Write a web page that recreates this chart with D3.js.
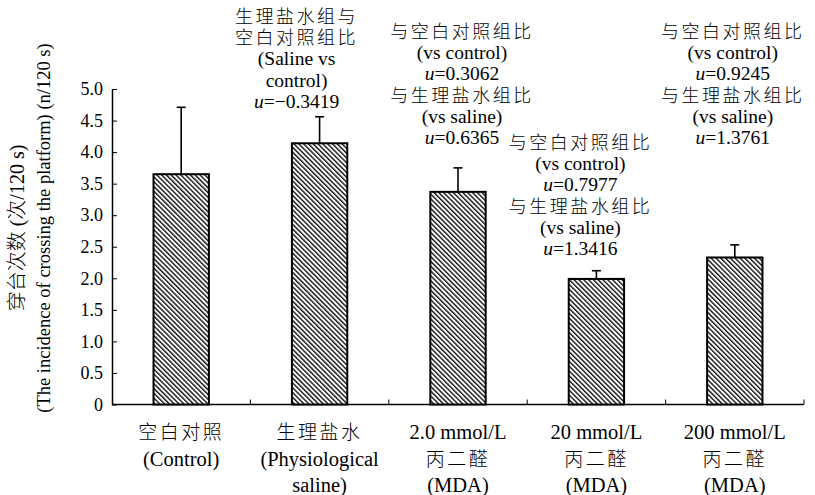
<!DOCTYPE html>
<html>
<head>
<meta charset="utf-8">
<script src="https://cdn.jsdelivr.net/npm/d3@7"></script>
<style>
  body { margin: 0; background: #fff; }
  svg text { font-family: "Liberation Serif", "Times New Roman", Times, serif; fill: #000; }
  svg text.cjk, svg tspan.cjk { font-family: "Noto Sans CJK SC", sans-serif; font-weight: 300; }
</style>
</head>
<body>
<div id="chart"></div>
<script>
// data
var categories = ["control", "saline", "mda2", "mda20", "mda200"];
var means = [3.65, 4.14, 3.37, 1.99, 2.33];
var errors = [1.06, 0.42, 0.38, 0.13, 0.2];
var yTicks = [0, 0.5, 1.0, 1.5, 2.0, 2.5, 3.0, 3.5, 4.0, 4.5, 5.0];
var catLabels = [
  ["空白对照", "(Control)"],
  ["生理盐水", "(Physiological", "saline)"],
  ["2.0 mmol/L", "丙二醛", "(MDA)"],
  ["20 mmol/L", "丙二醛", "(MDA)"],
  ["200 mmol/L", "丙二醛", "(MDA)"]
];
var notes = [
  [],
  ["生理盐水组与", "空白对照组比", "(Saline vs", "control)", "u=−0.3419"],
  ["与空白对照组比", "(vs control)", "u=0.3062", "与生理盐水组比", "(vs saline)", "u=0.6365"],
  ["与空白对照组比", "(vs control)", "u=0.7977", "与生理盐水组比", "(vs saline)", "u=1.3416"],
  ["与空白对照组比", "(vs control)", "u=0.9245", "与生理盐水组比", "(vs saline)", "u=1.3761"]
];
var yTitleCn = "穿台次数";
var yTitleEn = "(The incidence of crossing the platform) (n/120 s)";

// layout of the annotation blocks: [x offset from band centre, first baseline]
var noteLayout = [[0, 0], [-23, 23], [4, 38], [-16, 149], [-2, 38]];

var width = 815, height = 495;
var margin = {top: 89, right: 11, bottom: 90.5, left: 112};

var svg = d3.select("#chart").append("svg")
  .attr("width", width)
  .attr("height", height);

var defs = svg.append("defs");
var pat = defs.append("pattern")
  .attr("id", "hatch")
  .attr("patternUnits", "userSpaceOnUse")
  .attr("width", 3.4)
  .attr("height", 3.4)
  .attr("patternTransform", "rotate(-45)");
pat.append("rect").attr("width", 3.4).attr("height", 3.4).attr("fill", "#fff");
pat.append("rect").attr("width", 1.4).attr("height", 3.4).attr("fill", "#111");

var x = d3.scaleBand()
  .domain(categories)
  .range([margin.left, width - margin.right])
  .padding(0);

var y = d3.scaleLinear()
  .domain([0, 5])
  .range([height - margin.bottom, margin.top]);

var bw = x.bandwidth();
var isCJK = function(s) { return /[\u4e00-\u9fff]/.test(s); };

// y axis
var yAxis = svg.append("g")
  .attr("transform", "translate(" + margin.left + ",0)")
  .call(d3.axisLeft(y)
    .tickValues(yTicks)
    .tickSize(-5)
    .tickSizeOuter(0)
    .tickPadding(9)
    .tickFormat(function(d) { return d === 0 ? "0" : d.toFixed(1); }));
yAxis.attr("font-family", null).attr("font-size", null);
yAxis.select(".domain").attr("stroke", "#000").attr("stroke-width", 1.5);
yAxis.selectAll(".tick line").attr("stroke", "#000").attr("stroke-width", 1);
yAxis.selectAll(".tick text").style("font-size", "18px");

// x axis line + ticks at band edges
var xg = svg.append("g");
xg.append("line")
  .attr("x1", x.range()[0]).attr("x2", x.range()[1])
  .attr("y1", y(0)).attr("y2", y(0))
  .attr("stroke", "#000").attr("stroke-width", 1.5);
var edges = categories.slice(1).map(function(c) { return x(c); }).concat([x.range()[1]]);
xg.selectAll(".xt").data(edges).enter().append("line")
  .attr("class", "xt")
  .attr("x1", function(d) { return d; }).attr("x2", function(d) { return d; })
  .attr("y1", y(0)).attr("y2", y(0) - 5)
  .attr("stroke", "#000").attr("stroke-width", 1);

// bars
var bars = categories.map(function(c, i) { return {cat: c, mean: means[i], err: errors[i], i: i}; });

svg.selectAll(".bar").data(bars).enter().append("rect")
  .attr("class", "bar")
  .attr("x", function(d) { return x(d.cat) + bw * 0.3; })
  .attr("width", bw * 0.4)
  .attr("y", function(d) { return y(d.mean); })
  .attr("height", function(d) { return y(0) - y(d.mean); })
  .attr("fill", "url(#hatch)")
  .attr("stroke", "#000")
  .attr("stroke-width", 2);

// error bars
svg.selectAll(".err").data(bars).enter().append("line")
  .attr("class", "err")
  .attr("x1", function(d) { return x(d.cat) + bw / 2; })
  .attr("x2", function(d) { return x(d.cat) + bw / 2; })
  .attr("y1", function(d) { return y(d.mean); })
  .attr("y2", function(d) { return y(d.mean + d.err); })
  .attr("stroke", "#000").attr("stroke-width", 1.6);
svg.selectAll(".cap").data(bars).enter().append("line")
  .attr("class", "cap")
  .attr("x1", function(d) { return x(d.cat) + bw / 2 - 4.5; })
  .attr("x2", function(d) { return x(d.cat) + bw / 2 + 4.5; })
  .attr("y1", function(d) { return y(d.mean + d.err); })
  .attr("y2", function(d) { return y(d.mean + d.err); })
  .attr("stroke", "#000").attr("stroke-width", 1.6);

// write one line, italic "u" when needed
function writeLine(g, s, cx, by, size) {
  var t = g.append("text")
    .attr("x", cx).attr("y", by)
    .attr("text-anchor", "middle")
    .style("font-size", size + "px");
  if (isCJK(s)) {
    t.attr("class", "cjk").style("font-size", (size - 1.5) + "px")
      .style("letter-spacing", "2.5px").text(s);
  } else if (s.indexOf("u=") === 0) {
    t.append("tspan").style("font-style", "italic").text("u");
    t.append("tspan").text(s.slice(1));
  } else {
    t.text(s);
  }
}

// category labels
var lab = svg.append("g");
catLabels.forEach(function(lines, i) {
  var cx = x(categories[i]) + bw / 2;
  lines.forEach(function(s, j) {
    writeLine(lab, s, cx, 439 + j * 26.5, 20.5);
  });
});

// annotations
var ann = svg.append("g");
notes.forEach(function(lines, i) {
  var cx = x(categories[i]) + bw / 2 + noteLayout[i][0];
  lines.forEach(function(s, j) {
    writeLine(ann, s, cx, noteLayout[i][1] + j * 21.2, 19.5);
  });
});

// y title
var yt = svg.append("g").attr("transform", "translate(0,228) rotate(-90)");
var t1 = yt.append("text").attr("x", 0).attr("y", 24)
  .attr("text-anchor", "middle").style("font-size", "20px");
t1.append("tspan").attr("class", "cjk").text(yTitleCn);
t1.append("tspan").text(" (");
t1.append("tspan").attr("class", "cjk").text("次");
t1.append("tspan").text("/120 s)");
yt.append("text").attr("x", 0).attr("y", 50)
  .attr("text-anchor", "middle").style("font-size", "18.5px").text(yTitleEn);
</script>
</body>
</html>
